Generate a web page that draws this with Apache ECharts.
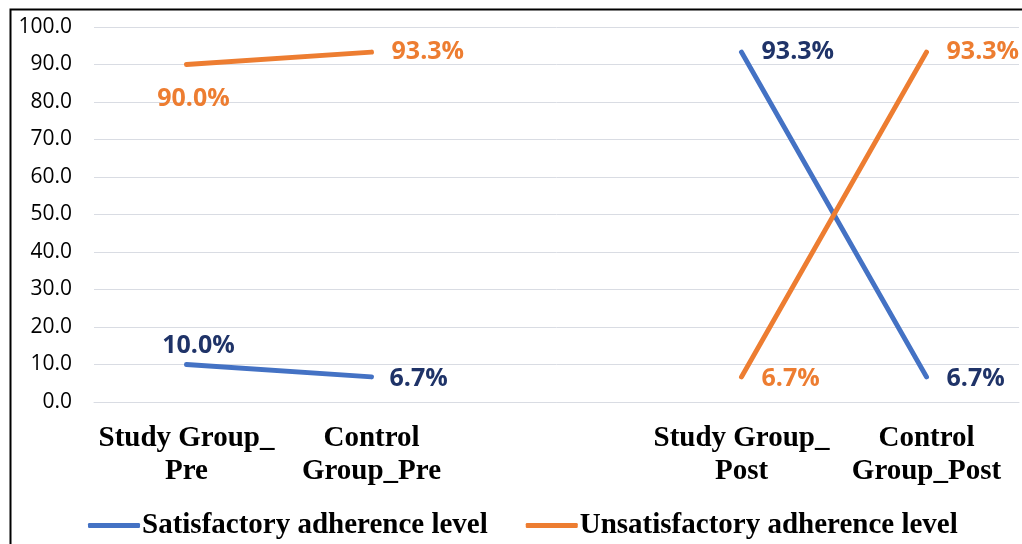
<!DOCTYPE html>
<html>
<head>
<meta charset="utf-8">
<script src="https://cdn.jsdelivr.net/npm/echarts@6/dist/echarts.min.js"></script>
<style>html,body{margin:0;padding:0;background:#fff;}#c{width:1022px;height:544px;}</style>
</head>
<body>
<div id="c"></div>
<script>
const categories = ["Study Group_\nPre", "Control\nGroup_Pre", "", "Study Group_\nPost", "Control\nGroup_Post"];
const satisfactory = [10.0, 6.7, null, 93.3, 6.7];
const unsatisfactory = [90.0, 93.3, null, 6.7, 93.3];
const seriesNames = ["Satisfactory adherence level", "Unsatisfactory adherence level"];

const chart = echarts.init(document.getElementById('c'));
const labelFont = {fontFamily: 'Open Sans', fontWeight: 'bold', fontSize: 25};

function labelsFor(values, positions, color) {
  return values.map((v, i) => {
    if (v === null) return null;
    const p = positions[i];
    return {value: v, label: Object.assign({show: true, color: color, position: p.pos, distance: p.dist, offset: p.off || [0,0],
      formatter: (o) => o.value.toFixed(1) + '%'}, labelFont)};
  });
}

const satPos = [{pos: 'top', dist: 6, off: [12, 0]}, {pos: 'right', dist: 18, off: [0, 2]}, null, {pos: 'right', dist: 20, off: [0, 0]}, {pos: 'right', dist: 20, off: [0, 2]}];
const unsatPos = [{pos: 'bottom', dist: 22, off: [7, 0]}, {pos: 'right', dist: 20, off: [0, 0]}, null, {pos: 'right', dist: 20, off: [0, 2]}, {pos: 'right', dist: 20, off: [0, 0]}];

chart.setOption({
  animation: false,
  backgroundColor: '#fff',
  graphic: [{type: 'rect', left: 8, top: 7, shape: {width: 1100, height: 600}, style: {fill: 'none', stroke: '#000', lineWidth: 2}, silent: true, z: 100}],
  grid: {left: 94, right: 3, top: 27, bottom: 142, containLabel: false},
  legend: {
    bottom: 4, left: 88, padding: 0, itemWidth: 52, itemHeight: 5, itemGap: 38,
    icon: 'roundRect',
    textStyle: {fontFamily: 'Liberation Serif', fontWeight: 'bold', fontSize: 29, color: '#000', padding: [0, 0, 0, -3]},
    data: seriesNames
  },
  xAxis: {
    type: 'category', data: categories, boundaryGap: true,
    axisLine: {show: true, lineStyle: {color: '#D9DCE3'}},
    axisTick: {show: false},
    axisLabel: {interval: 0, margin: 20, fontFamily: 'Liberation Serif', fontWeight: 'bold', fontSize: 29, color: '#000', lineHeight: 33}
  },
  yAxis: {
    type: 'value', min: 0, max: 100, interval: 10,
    axisLine: {show: false}, axisTick: {show: false},
    splitLine: {lineStyle: {color: '#D9DCE3', width: 1}},
    axisLabel: {margin: 22, fontFamily: 'Open Sans', fontSize: 21, color: '#000', formatter: (v) => v.toFixed(1)}
  },
  series: [
    {name: seriesNames[0], type: 'line', data: labelsFor(satisfactory, satPos, '#1F3368'), connectNulls: false,
     symbol: 'circle', symbolSize: 0.1, showSymbol: true,
     lineStyle: {color: '#4472C4', width: 5, cap: 'round'}, itemStyle: {color: '#4472C4'}},
    {name: seriesNames[1], type: 'line', data: labelsFor(unsatisfactory, unsatPos, '#ED7D31'), connectNulls: false,
     symbol: 'circle', symbolSize: 0.1, showSymbol: true,
     lineStyle: {color: '#ED7D31', width: 5, cap: 'round'}, itemStyle: {color: '#ED7D31'}}
  ]
});
</script>
</body>
</html>
